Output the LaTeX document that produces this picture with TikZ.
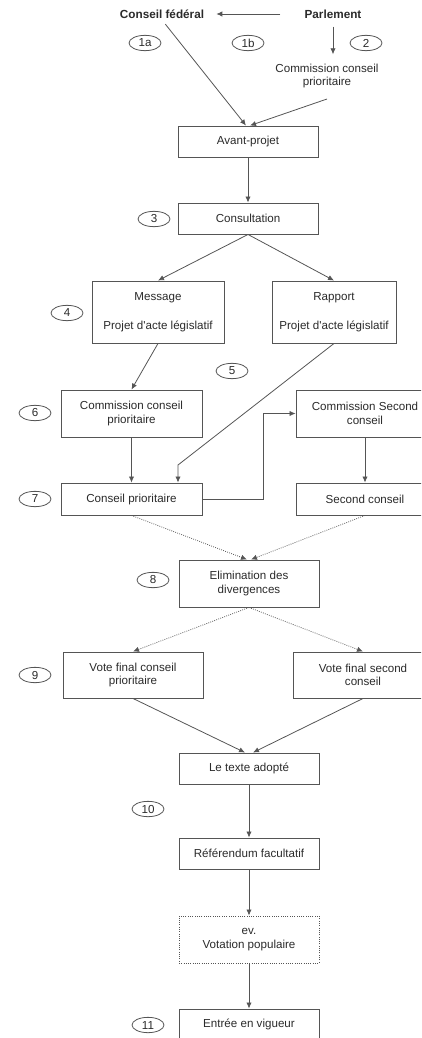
\documentclass[tikz,border=0pt]{standalone}
\usepackage{fontspec}
\setmainfont{Liberation Sans}
\usetikzlibrary{arrows.meta,shapes.geometric,calc}
\definecolor{ln}{HTML}{555555}
\definecolor{tx}{HTML}{2A2A2A}
\begin{document}
\begin{tikzpicture}[x=0.75pt,y=-0.75pt,
 every node/.style={text=tx,font=\fontsize{8.7}{10}\selectfont},
 boldlbl/.style={font=\fontsize{8.8}{10}\selectfont\bfseries,inner sep=1pt},
 box/.style={draw=ln,line width=0.7pt,rectangle,align=center,inner sep=0pt,minimum width=105pt,minimum height=23.25pt},
 num/.style={draw=ln,line width=0.6pt,ellipse,minimum width=24pt,minimum height=11.5pt,inner sep=0pt},
 arr/.style={draw=ln,line width=0.6pt,-{Latex[length=4.5pt,width=4pt]}},
 dots/.style={arr,densely dotted},
 lbl/.style={align=center,inner sep=1pt}]
\useasboundingbox (0,0) rectangle (421,1038);
\clip (0,0) rectangle (421,1038);
% top
\node[boldlbl] (cf) at (162,14) {Conseil fédéral};
\node[boldlbl] (parl) at (333,14) {Parlement};
\node[num] (n1a) at (145,43) {1a};
\node[num] (n1b) at (248,43) {1b};
\node[num] (n2) at (366,43) {2};
\node[lbl] (cct) at (327,76) {Commission conseil\\prioritaire};
% boxes
\node[box] (ap) at (248,141.5) {Avant-projet};
\node[box] (cons) at (248,218.5) {Consultation};
\node[num] (n3) at (154,219) {3};
\node[box,minimum width=99pt,minimum height=46.5pt] (msg) at (158,312) {Message\\[11.5pt]Projet d\textquotesingle acte législatif};
\node[box,minimum width=93pt,minimum height=46.5pt] (rap) at (334,312) {Rapport\\[11.5pt]Projet d\textquotesingle acte législatif};
\node[num] (n4) at (67,313) {4};
\node[num] (n5) at (232,371) {5};
\node[box,minimum width=105.75pt,minimum height=35.25pt] (ccp) at (131.5,413.5) {Commission conseil\\prioritaire};
\node[box,minimum width=103.5pt,minimum height=35.25pt] (csc) at (365,413.5) {Commission Second\\conseil};
\node[num] (n6) at (35,413) {6};
\node[box,minimum width=105.75pt,minimum height=24pt] (cp) at (131.5,499) {Conseil prioritaire};
\node[box,minimum width=103.5pt,minimum height=24pt] (sc) at (365,499) {Second conseil};
\node[num] (n7) at (35,499) {7};
\node[box,minimum height=35.25pt] (elim) at (249,583.5) {Elimination des\\divergences};
\node[num] (n8) at (153,580) {8};
\node[box,minimum height=34.5pt] (vcp) at (133,675) {Vote final conseil\\prioritaire};
\node[box,minimum height=34.5pt] (vsc) at (363,675) {Vote final second\\conseil};
\node[num] (n9) at (35,675) {9};
\node[box] (adopt) at (249,768.5) {Le texte adopté};
\node[num] (n10) at (148,809) {10};
\node[box] (ref) at (249,853.5) {Référendum facultatif};
\node[box,densely dotted,minimum height=35.25pt] (vot) at (249,939.5) {ev.\\Votation populaire};
\node[box] (ent) at (249,1024.5) {Entrée en vigueur};
\node[num] (n11) at (148,1025) {11};
% connectors
\draw[arr,shorten <=17pt,shorten >=8pt] (parl.west) -- (cf.east);
\draw[arr,shorten <=5pt,shorten >=6pt] (parl.south) -- (parl.south |- cct.north);
\draw[arr,shorten <=4pt] (cf.south) -- ([xshift=-1.5pt]ap.north);
\draw[arr] ([yshift=-7pt]cct.south) -- ([xshift=1.5pt]ap.north);
\draw[arr] (ap.south) -- (cons.north);
\draw[arr] (cons.south) -- (msg.north);
\draw[arr] (cons.south) -- (rap.north);
\draw[arr] (msg.south) -- (ccp.north);
\coordinate (k5) at (178,465);
\draw[arr] (rap.south) -- (k5) -- (k5 |- cp.north);
\draw[arr] (ccp.south) -- (cp.north);
\coordinate (k7) at (263,499);
\draw[arr] (cp.east) -- (k7) |- (csc.west);
\draw[arr] (csc.south) -- (sc.north);
\draw[dots] (cp.south) -- ([xshift=-1.5pt]elim.north);
\draw[dots] (sc.south) -- ([xshift=1.5pt]elim.north);
\draw[dots] (elim.south) -- (vcp.north);
\draw[dots] (elim.south) -- (vsc.north);
\draw[arr] (vcp.south) -- ([xshift=-3pt]adopt.north);
\draw[arr] (vsc.south) -- ([xshift=3pt]adopt.north);
\draw[arr] (adopt.south) -- (ref.north);
\draw[arr] (ref.south) -- (vot.north);
\draw[arr] (vot.south) -- (ent.north);
\end{tikzpicture}
\end{document}
